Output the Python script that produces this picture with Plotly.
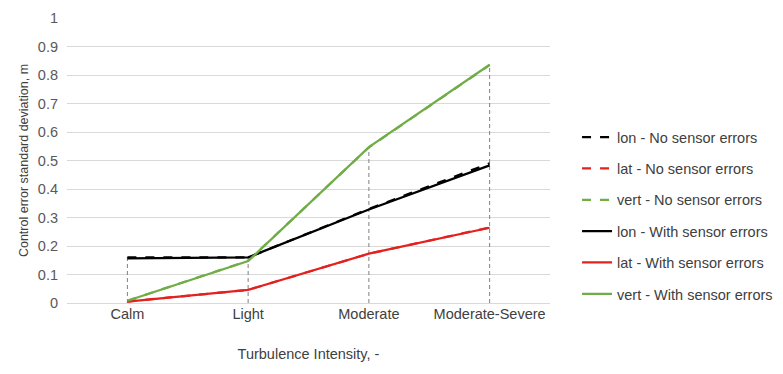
import plotly.graph_objects as go

categories = ["Calm", "Light", "Moderate", "Moderate-Severe"]
lon_no = [0.160, 0.160, 0.330, 0.490]
lat_no = [0.005, 0.046, 0.173, 0.265]
vert_no = [0.008, 0.148, 0.546, 0.835]
lon_with = [0.157, 0.160, 0.328, 0.483]
lat_with = [0.005, 0.046, 0.173, 0.264]
vert_with = [0.008, 0.147, 0.547, 0.836]
y_ticks = [0, 0.1, 0.2, 0.3, 0.4, 0.5, 0.6, 0.7, 0.8, 0.9, 1]
y_tick_labels = ["0", "0.1", "0.2", "0.3", "0.4", "0.5", "0.6", "0.7", "0.8", "0.9", "1"]

BLACK = "#000000"
RED = "#e3211f"
GREEN = "#71ad47"
FONT = "Liberation Sans, Arial, sans-serif"

fig = go.Figure()

# drop lines
all_series = [lon_no, lat_no, vert_no, lon_with, lat_with, vert_with]
for i, c in enumerate(categories):
    top = max(s[i] for s in all_series)
    fig.add_trace(go.Scatter(x=[c, c], y=[0, top], mode="lines",
                             line=dict(color="#808080", width=1, dash="4px,3px"),
                             showlegend=False, hoverinfo="skip"))

series = [
    ("lon - No sensor errors", lon_no, BLACK, "dash"),
    ("lat - No sensor errors", lat_no, RED, "dash"),
    ("vert - No sensor errors", vert_no, GREEN, "dash"),
    ("lon - With sensor errors", lon_with, BLACK, "solid"),
    ("lat - With sensor errors", lat_with, RED, "solid"),
    ("vert - With sensor errors", vert_with, GREEN, "solid"),
]
for k, (name, vals, col, dash) in enumerate(series):
    fig.add_trace(go.Scatter(x=categories, y=vals, mode="lines", name=name,
                             legendgroup="g%d" % k,
                             line=dict(color=col, width=2.25, dash=dash)))

fig.update_layout(
    width=775, height=366,
    margin=dict(l=59, r=233, t=10, b=71, autoexpand=False),
    paper_bgcolor="white", plot_bgcolor="white",
    font=dict(family=FONT, size=14, color="#595959"),
    showlegend=True,
    legend=dict(x=1.056, y=0.638, xanchor="left", yanchor="top",
                font=dict(family=FONT, size=14.5, color="#404040"),
                tracegroupgap=9.5, bgcolor="rgba(0,0,0,0)"),
    xaxis=dict(type="category", showgrid=False, showline=False, ticks="",
               tickfont=dict(size=14.5, color="#404040"),
               title=dict(text="Turbulence Intensity, -", font=dict(size=14.5, color="#404040"), standoff=28),
               range=[-0.5, 3.5]),
    yaxis=dict(range=[0, 1], tickvals=y_ticks, ticktext=y_tick_labels,
               showgrid=True, gridcolor="#d9d9d9", gridwidth=1,
               zeroline=True, zerolinecolor="#d9d9d9", zerolinewidth=1,
               showline=False, ticks="", ticklabelstandoff=8,
               tickfont=dict(size=14.5, color="#595959"),
               title=dict(text="Control error standard deviation, m", font=dict(size=12.5, color="#404040"), standoff=6)),
)

fig.write_html("out.html")
